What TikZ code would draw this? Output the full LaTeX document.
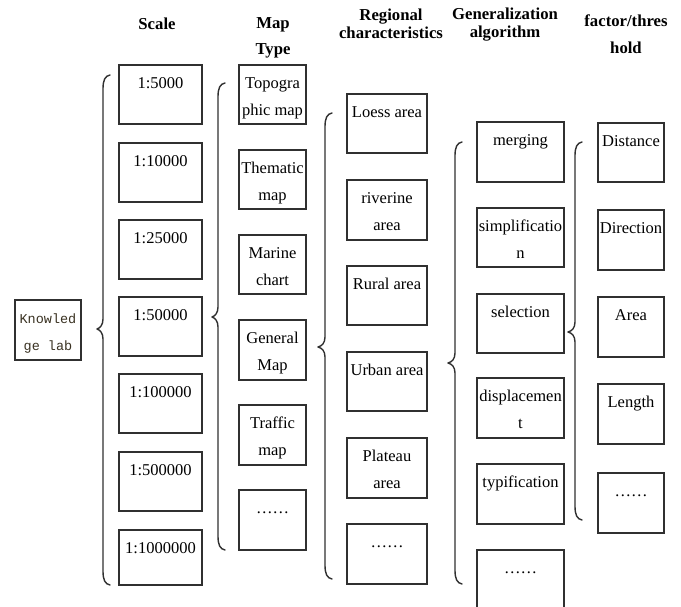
\documentclass[tikz,border=0pt]{standalone}
\usepackage{fontspec}
\setmainfont{Liberation Serif}
\newfontfamily\monofnt{Liberation Mono}
\usetikzlibrary{calc}
\definecolor{edge}{HTML}{303030}
\definecolor{knowtxt}{HTML}{3A3222}
\tikzset{
  box/.style={draw=edge, line width=1.8pt, rectangle, inner sep=0pt, outer sep=0pt},
  boxtxt/.style={inner sep=0pt, align=center, font=\fontsize{16.5}{27}\selectfont},
  head/.style={inner sep=0pt, align=center, font=\bfseries\fontsize{16.7}{18}\selectfont},
  headwide/.style={inner sep=0pt, align=center, font=\bfseries\fontsize{16.7}{26.5}\selectfont},
  bracestyle/.style={draw=edge, line width=1.4pt, line cap=round, line join=round},
}
% name, x1, y1, x2, y2, text
\newcommand\bxx[6]{%
  \node[box, anchor=north west, minimum width={#4-#2}, minimum height={#5-#3}] (#1) at (#2,#3) {};
  \node[boxtxt, anchor=north] (#1t) at ($(#1.north)+(0,4)$) {\strut #6};
}
% xline, ytop, ybot, hookx, tipx, tipy
\newcommand\brc[6]{%
  \draw[bracestyle] (#4,#2) .. controls (#1+2,#2+1) and (#1,#2+5) .. (#1,#2+14)
    -- (#1,#6-10) .. controls (#1,#6-4) and (#1-3,#6-1) .. (#5,#6)
    .. controls (#1-3,#6+1) and (#1,#6+4) .. (#1,#6+10)
    -- (#1,#3-14) .. controls (#1,#3-5) and (#1+2,#3-1) .. (#4,#3);
}
\begin{document}
\begin{tikzpicture}[x=1pt,y=-1pt]
\useasboundingbox (0,0) rectangle (681,607);
\clip (0,0) rectangle (681,607);
\fill[white] (0,0) rectangle (681,607);

% headers
\node[head, anchor=base] (hScale) at (157,30) {Scale};
\node[headwide, anchor=north] (hMap) at (273,17) {Map\\Type};
\node[head, anchor=north] (hReg) at (391,9) {Regional\\characteristics};
\node[head, anchor=north] (hGen) at (505,8) {Generalization\\algorithm};
\node[headwide, anchor=north] (hFac) at (626,15) {factor/thres\\hold};

% knowledge lab
\node[box, anchor=north west, minimum width=66, minimum height=60] (kl) at (15,300) {};
\node[inner sep=0pt, align=center, text=knowtxt, font=\monofnt\fontsize{13.5}{27}\selectfont, anchor=north] (klt) at ($(kl.north)+(0,4)$) {\strut Knowled\\ge lab};

% scale
\bxx{s1}{119}{65}{202}{124}{1:5000}
\bxx{s2}{119}{143}{202}{202}{1:10000}
\bxx{s3}{119}{220}{202}{279}{1:25000}
\bxx{s4}{119}{297}{202}{356}{1:50000}
\bxx{s5}{119}{374}{202}{433}{1:100000}
\bxx{s6}{119}{452}{202}{511}{1:500000}
\bxx{s7}{119}{530}{202}{585}{1:1000000}

% map type
\bxx{m1}{239}{65}{306}{124}{Topogra\\phic map}
\bxx{m2}{239}{150}{306}{209}{Thematic\\map}
\bxx{m3}{239}{235}{306}{294}{Marine\\chart}
\bxx{m4}{239}{320}{306}{380}{General\\Map}
\bxx{m5}{239}{405}{306}{465}{Traffic\\map}
\bxx{m6}{239}{490}{306}{550}{……}

% regional
\bxx{r1}{347}{94}{427}{153}{Loess area}
\bxx{r2}{347}{180}{427}{240}{riverine\\area}
\bxx{r3}{347}{266}{427}{325}{Rural area}
\bxx{r4}{347}{352}{427}{411}{Urban area}
\bxx{r5}{347}{438}{427}{498}{Plateau\\area}
\bxx{r6}{347}{524}{427}{584}{……}

% generalization
\bxx{g1}{477}{122}{564}{182}{merging}
\bxx{g2}{477}{208}{564}{267}{simplificatio\\n}
\bxx{g3}{477}{294}{564}{353}{selection}
\bxx{g4}{477}{378}{564}{438}{displacemen\\t}
\bxx{g5}{477}{464}{564}{524}{typification}
\bxx{g6}{477}{550}{564}{615}{……}

% factor
\bxx{f1}{598}{123}{664}{182}{Distance}
\bxx{f2}{598}{210}{664}{270}{Direction}
\bxx{f3}{598}{297}{664}{357}{Area}
\bxx{f4}{598}{384}{664}{444}{Length}
\bxx{f5}{598}{473}{664}{533}{……}

% braces
\brc{103}{75}{585}{110}{97}{329}
\brc{218}{83}{550}{225}{212}{317}
\brc{325}{113}{579}{332}{318}{347}
\brc{455}{142}{584}{462}{448}{363}
\brc{575}{142}{520}{582}{568}{332}
\end{tikzpicture}
\end{document}
